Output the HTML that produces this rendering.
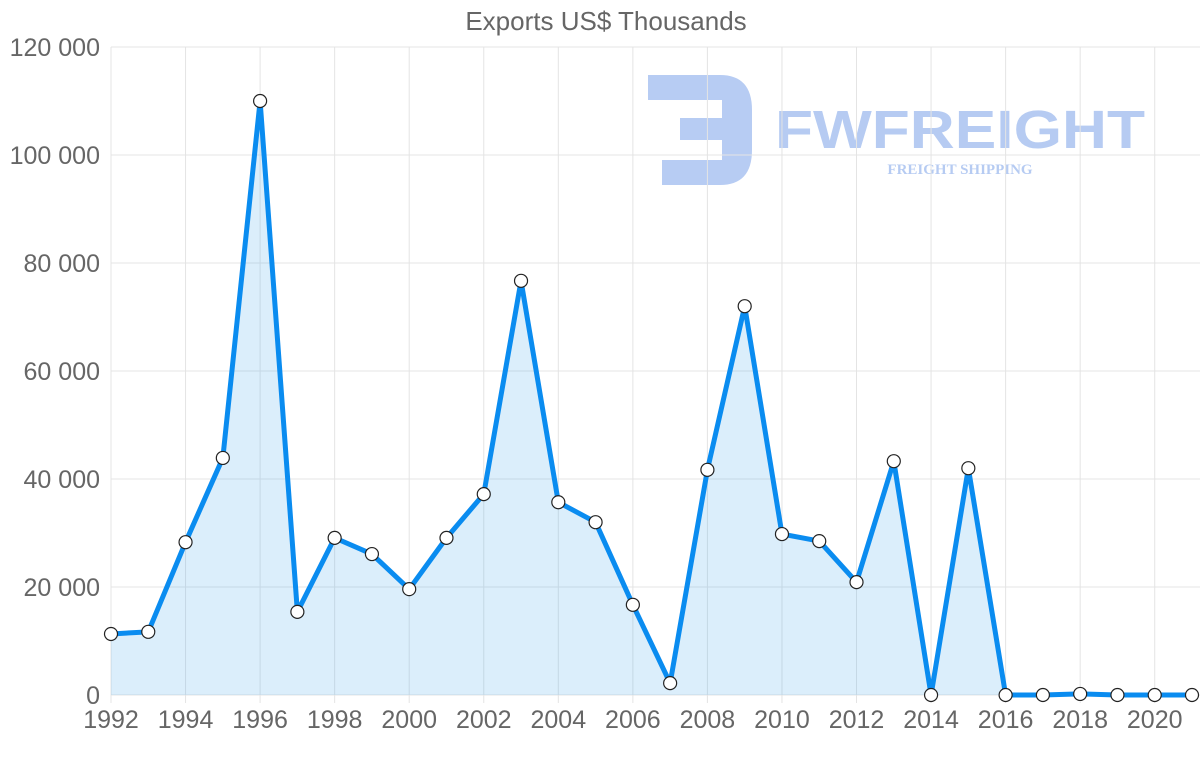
<!DOCTYPE html>
<html><head><meta charset="utf-8"><style>
body{margin:0;background:#fff;font-family:"Liberation Sans",sans-serif}
</style></head><body>
<svg id="chart" width="1200" height="763" xmlns="http://www.w3.org/2000/svg">
<text x="606" y="30" font-size="26" fill="#666" text-anchor="middle" font-family="Liberation Sans">Exports US$ Thousands</text>
<g opacity="0.4">
<path d="M648 75 H720 Q752 75 752 110 V150 Q752 185 720 185 H662 V160 H722 V140 H680 V118 H722 V100 H648 Z" fill="#4a7fe0"/>
<text x="960" y="148" font-size="54" font-weight="bold" fill="#4a7fe0" text-anchor="middle" font-family="Liberation Sans" textLength="370" lengthAdjust="spacingAndGlyphs">FWFREIGHT</text>
<text x="960" y="174" font-size="15" font-weight="bold" fill="#4a7fe0" text-anchor="middle" font-family="Liberation Serif">FREIGHT SHIPPING</text>
</g>
<g id="grid"></g><g id="series"></g><g id="axes"></g>
</svg>
<script>
const years=[1992,1993,1994,1995,1996,1997,1998,1999,2000,2001,2002,2003,2004,2005,2006,2007,2008,2009,2010,2011,2012,2013,2014,2015,2016,2017,2018,2019,2020,2021];
const exportsValues=[11300,11700,28300,43900,110000,15400,29100,26100,19600,29100,37200,76700,35700,32000,16700,2200,41700,72000,29800,28500,20900,43300,0,42000,0,0,200,0,0,0];
const yTicks=[0,20000,40000,60000,80000,100000,120000];
const yTickLabels=["0","20 000","40 000","60 000","80 000","100 000","120 000"];
const xTickLabels=["1992","1994","1996","1998","2000","2002","2004","2006","2008","2010","2012","2014","2016","2018","2020"];
const NS="http://www.w3.org/2000/svg";
const X0=111,X1=1192,Y0=695,Y1=47;
const x=yr=>X0+(yr-1992)/(2021-1992)*(X1-X0);
const y=v=>Y0-v/120000*(Y0-Y1);
function mk(t,a,p){const e=document.createElementNS(NS,t);for(const k in a)e.setAttribute(k,a[k]);p.appendChild(e);return e;}
const grid=document.getElementById('grid'),axes=document.getElementById('axes'),ser=document.getElementById('series');
yTicks.forEach((v,i)=>{
 const l=mk('line',{x1:X0,x2:X1+8,y1:y(v),y2:y(v),stroke:'#e4e4e4'},grid);
 
 
 const t=mk('text',{x:100,y:y(v)+9,'font-size':25,fill:'#666','text-anchor':'end'},axes);
 t.textContent=yTickLabels[i];
 
 
});
xTickLabels.forEach(s=>{
 const yr=+s;
 const l=mk('line',{x1:x(yr),x2:x(yr),y1:Y1,y2:Y0+8,stroke:'#e4e4e4'},grid);
 
 
 const t=mk('text',{x:x(yr),y:728,'font-size':25,fill:'#666','text-anchor':'middle'},axes);
 t.textContent=s;
 
 
});
const pts=years.map((yr,i)=>[x(yr),y(exportsValues[i])]);
const area=mk('path',{d:'M'+pts.map(p=>p.join(',')).join('L')+`L${x(2021)},${Y0}L${X0},${Y0}Z`,fill:'rgba(54,162,235,0.18)'},ser);


const line=mk('polyline',{points:pts.map(p=>p.join(',')).join(' '),fill:'none',stroke:'#0a8cf0','stroke-width':5,'stroke-linejoin':'round'},ser);


pts.forEach((p,i)=>{
 const c=mk('circle',{cx:p[0],cy:p[1],r:6.5,fill:'#fff',stroke:'#222','stroke-width':1.2},ser);
 
 
});
</script>
</body></html>
